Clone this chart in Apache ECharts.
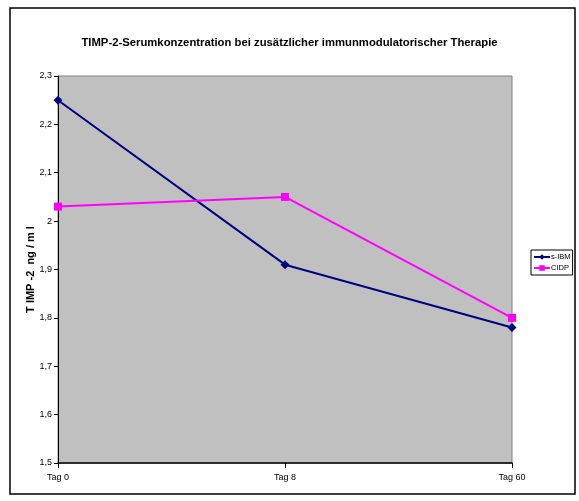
<!DOCTYPE html>
<html>
<head>
<meta charset="utf-8">
<script src="https://cdn.jsdelivr.net/npm/echarts@6/dist/echarts.min.js"></script>
<style>
html,body{margin:0;padding:0;background:#fff;}
#c{width:579px;height:501px;}
</style>
</head>
<body>
<div id="c"></div>
<script>
const categories = ['Tag 0', 'Tag 8', 'Tag 60'];
const sIBM = [2.25, 1.91, 1.78];
const CIDP = [2.03, 2.05, 1.80];
const titleText = 'TIMP-2-Serumkonzentration bei zusätzlicher immunmodulatorischer Therapie';
const yName = 'T IMP -2  ng / m l';

const chart = echarts.init(document.getElementById('c'), null, {renderer: 'canvas'});
const fontFamily = '"Liberation Sans", Arial, sans-serif';
chart.setOption({
  animation: false,
  textStyle: {fontFamily: fontFamily},
  graphic: [{
    type: 'rect', shape: {x: 10, y: 8, width: 565, height: 486},
    style: {fill: 'none', stroke: '#000', lineWidth: 1.5}, z: -1
  }],
  title: {
    text: titleText, left: 'center', top: 32,
    textStyle: {fontSize: 11.3, fontWeight: 'bold', color: '#000', fontFamily: fontFamily}
  },
  legend: {
    orient: 'vertical', left: 531, top: 250,
    borderColor: '#000', borderWidth: 1, padding: [3, 2, 3, 2],
    itemWidth: 16, itemHeight: 7, itemGap: 3,
    textStyle: {fontSize: 7.5, color: '#000', padding: [0, 0, 0, -4]},
    data: ['s-IBM', 'CIDP']
  },
  grid: {
    left: 58, right: 67, top: 76, bottom: 38,
    show: true, backgroundColor: '#c0c0c0', borderColor: '#808080', borderWidth: 1
  },
  xAxis: {
    type: 'category', data: categories, boundaryGap: false,
    axisLine: {lineStyle: {color: '#000', width: 1.5}},
    axisTick: {show: true, length: 5, lineStyle: {color: '#000'}},
    axisLabel: {fontSize: 9, color: '#000', margin: 10},
    splitLine: {show: false}
  },
  yAxis: {
    type: 'value', min: 1.5, max: 2.3, interval: 0.1,
    name: yName, nameLocation: 'middle', nameGap: 22, nameRotate: 90,
    nameMoveOverlap: false,
    nameTextStyle: {fontSize: 11, fontWeight: 'bold', color: '#000'},
    axisLine: {show: true, lineStyle: {color: '#000', width: 1}},
    axisTick: {show: true, length: 4, lineStyle: {color: '#000'}},
    axisLabel: {fontSize: 9, color: '#000', margin: 6,
      formatter: v => String(Math.round(v * 10) / 10).replace('.', ',')},
    splitLine: {show: false}
  },
  series: [
    {name: 's-IBM', type: 'line', data: sIBM, symbol: 'diamond', symbolSize: 9,
      lineStyle: {color: '#000080', width: 2}, itemStyle: {color: '#000080'}},
    {name: 'CIDP', type: 'line', data: CIDP, symbol: 'rect', symbolSize: 8,
      lineStyle: {color: '#ff00ff', width: 2}, itemStyle: {color: '#ff00ff'}}
  ]
});
</script>
</body>
</html>
